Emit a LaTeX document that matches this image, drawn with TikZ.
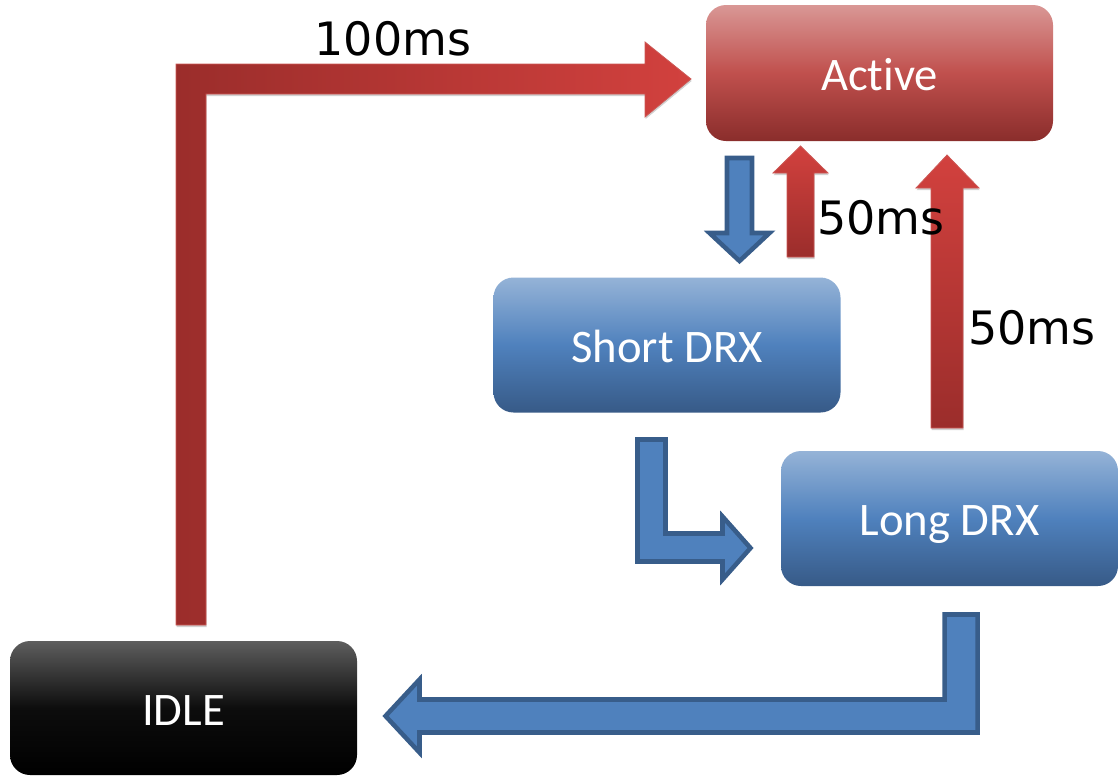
\documentclass[tikz,border=0pt]{standalone}
\usepackage{fontspec}
\newfontfamily\boxfont[Ligatures=NoCommon]{Carlito}
\newfontfamily\labelfont{DejaVu Sans}
\usetikzlibrary{shadows}

\definecolor{redTop}{HTML}{D99795}
\definecolor{redMid}{HTML}{C0504D}
\definecolor{redBot}{HTML}{8A2D2B}
\definecolor{redLight}{HTML}{D2413E}
\definecolor{redDark}{HTML}{9B2D2B}
\definecolor{redEdge}{HTML}{CC5855}
\definecolor{blueTop}{HTML}{95B3D7}
\definecolor{blueMid}{HTML}{4F81BD}
\definecolor{blueBot}{HTML}{375A87}
\definecolor{blueEdge}{HTML}{385D8A}
\definecolor{idleTop}{HTML}{5E5E5E}

\tikzset{
  statebox/.style={rounded corners=15pt, inner sep=0pt, text=white,
    text height=25.5pt, text depth=0pt,
    font=\boxfont\fontsize{35}{40}\selectfont},
  redbox/.style={statebox, top color=redTop, bottom color=redBot, middle color=redMid},
  bluebox/.style={statebox, top color=blueTop, bottom color=blueBot, middle color=blueMid},
  blackbox/.style={statebox, top color=idleTop, bottom color=black, middle color=black!95},
  timelabel/.style={font=\labelfont\fontsize{34.5}{40}\selectfont, anchor=base, inner sep=0pt},
  redshadow/.style={drop shadow={shadow xshift=0.5pt, shadow yshift=-1.5pt, fill=black, opacity=0.18}},
  redarrowH/.style={redshadow, left color=redDark, right color=redLight, draw=redEdge, line width=0.6pt},
  redarrowV/.style={redshadow, top color=redLight, bottom color=redDark, draw=redEdge, line width=0.6pt},
  bluearrow/.style={fill=blueMid, draw=blueEdge, line width=3.4pt, line join=miter},
}

\begin{document}
\begin{tikzpicture}[x=0.75pt, y=-0.75pt]
  \useasboundingbox (0,0) rectangle (1119,775);

  % states
  \node[redbox,  minimum width=347*0.75pt, minimum height=136*0.75pt] (active) at (879.5,73)  {Active};
  \node[bluebox, minimum width=347*0.75pt, minimum height=135*0.75pt] (short)  at (667,345)   {Short DRX};
  \node[bluebox, minimum width=337*0.75pt, minimum height=135*0.75pt] (long)   at (949.5,518.5) {Long DRX};
  \node[blackbox,minimum width=347*0.75pt, minimum height=134*0.75pt] (idle)   at (183.5,708) {IDLE};

  % IDLE -> Active (100ms)
  \path[redarrowH] (176,625) -- (176,64) -- (645,64) -- (645,42) -- (691,79)
    -- (645,117) -- (645,94) -- (206,94) -- (206,625) -- cycle;

  % Active -> Short DRX
  \path[bluearrow] (727,158) -- (752,158) -- (752,233) -- (769.5,233) -- (739.5,261)
    -- (709.5,233) -- (727,233) -- cycle;

  % Short DRX -> Active (50ms)
  \path[redarrowV] (787,257) -- (787,173) -- (773,173) -- (800.5,146) -- (828,173)
    -- (814,173) -- (814,257) -- cycle;

  % Long DRX -> Active (50ms)
  \path[redarrowV] (931,428) -- (931,188) -- (916,188) -- (947,155) -- (979,188)
    -- (963,188) -- (963,428) -- cycle;

  % Short DRX -> Long DRX
  \path[bluearrow] (637.5,439.5) -- (665.5,439.5) -- (665.5,533.5) -- (722.5,533.5)
    -- (722.5,516.5) -- (750.5,548) -- (722.5,579.5) -- (722.5,561.5) -- (637.5,561.5) -- cycle;

  % Long DRX -> IDLE
  \path[bluearrow] (977.5,614.5) -- (977.5,732.5) -- (419.5,732.5) -- (419.5,752.5)
    -- (385.5,716) -- (419.5,679.5) -- (419.5,699.5) -- (944.5,699.5) -- (944.5,614.5) -- cycle;

  % transition times
  \node[timelabel] (t100) at (393,55)  {100ms};
  \node[timelabel] (t50a) at (881,234) {50ms};
  \node[timelabel] (t50b) at (1032,344) {50ms};
\end{tikzpicture}
\end{document}
